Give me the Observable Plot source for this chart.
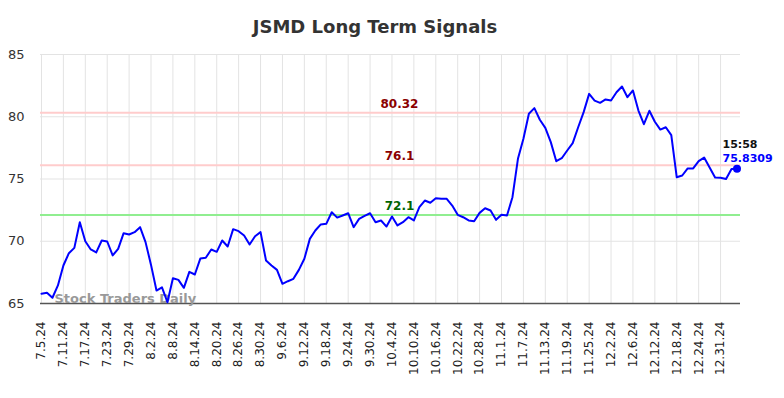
<!DOCTYPE html>
<html>
<head>
<meta charset="utf-8">
<script src="https://cdn.jsdelivr.net/npm/d3@7"></script>
<script src="https://cdn.jsdelivr.net/npm/@observablehq/plot@0.6"></script>
<style>
  html, body { margin: 0; padding: 0; background: #fff; }
  #title { width: 750px; height: 40px; text-align: center;
           font: bold 18px "DejaVu Sans", sans-serif; line-height: 54px; color: #333; overflow: visible; }
  #chart svg { display: block; }
</style>
</head>
<body>
<div id="title">JSMD Long Term Signals</div>
<div id="chart"></div>
<script>
const values = [
  65.78, 65.86, 65.46, 66.45, 68.05, 69.04, 69.47, 71.53, 70.00, 69.34,
  69.10, 70.06, 69.98, 68.86, 69.39, 70.65, 70.54, 70.73, 71.13, 69.93,
  68.10, 66.04, 66.30, 65.10, 67.03, 66.90, 66.26, 67.54, 67.33, 68.61,
  68.67, 69.34, 69.15, 70.06, 69.58, 70.97, 70.81, 70.46, 69.74, 70.40,
  70.73, 68.45, 68.05, 67.70, 66.58, 66.79, 66.98, 67.70, 68.59, 70.19,
  70.86, 71.35, 71.40, 72.33, 71.90, 72.07, 72.25, 71.13, 71.80, 72.04,
  72.25, 71.53, 71.67, 71.18, 71.99, 71.27, 71.53, 71.93, 71.67, 72.74,
  73.27, 73.09, 73.45, 73.41, 73.41, 72.87, 72.12, 71.93, 71.67, 71.61,
  72.28, 72.65, 72.47, 71.72, 72.12, 72.07, 73.54, 76.62, 78.23, 80.24,
  80.69, 79.76, 79.11, 77.96, 76.43, 76.67, 77.29, 77.88, 79.16, 80.37,
  81.84, 81.30, 81.12, 81.39, 81.30, 81.97, 82.43, 81.57, 82.11, 80.50,
  79.40, 80.48, 79.60, 78.97, 79.16, 78.52, 75.14, 75.28, 75.85, 75.85,
  76.43, 76.72, 75.92, 75.12, 75.10, 75.00, 75.80, 75.8309
];
const tickLabels = [
  "7.5.24", "7.11.24", "7.17.24", "7.23.24", "7.29.24", "8.2.24", "8.8.24", "8.14.24",
  "8.20.24", "8.26.24", "8.30.24", "9.6.24", "9.12.24", "9.18.24", "9.24.24", "9.30.24",
  "10.4.24", "10.10.24", "10.16.24", "10.22.24", "10.28.24", "11.1.24", "11.7.24", "11.13.24",
  "11.19.24", "11.25.24", "12.2.24", "12.6.24", "12.12.24", "12.18.24", "12.24.24", "12.31.24"
];
const tickStep = 4;
const resistanceLevels = [80.32, 76.1];
const supportLevels = [72.1];
const yTicks = [65, 70, 75, 80, 85];
const lastTime = "15:58";
const lastValue = 75.8309;

const data = values.map((v, i) => ({i, v}));
const tickIdx = tickLabels.map((_, k) => k * tickStep);
const labelOf = new Map(tickIdx.map((t, k) => [t, tickLabels[k]]));
const last = data[data.length - 1];

const chart = Plot.plot({
  width: 784,
  height: 358,
  marginTop: 14,
  marginBottom: 95,
  marginLeft: 40,
  marginRight: 44,
  style: {fontFamily: "DejaVu Sans, sans-serif", fontSize: "12px", color: "#333", background: "#fff"},
  x: {type: "linear", domain: [-0.18, values.length - 1 + 0.64]},
  y: {domain: [65, 85]},
  marks: [
    Plot.gridY(yTicks, {stroke: "#e3e3e3", strokeOpacity: 1, strokeWidth: 1}),
    Plot.gridX(tickIdx, {stroke: "#e3e3e3", strokeOpacity: 1, strokeWidth: 1}),
    Plot.axisY(yTicks, {tickSize: 0, tickPadding: 16, fontSize: 13, fill: "#333", label: null}),
    Plot.axisX(tickIdx, {tickSize: 0, tickPadding: 18, tickRotate: -90, fontSize: 12, fill: "#222",
      tickFormat: d => labelOf.get(d), label: null}),
    Plot.ruleY(resistanceLevels, {stroke: "#ffcccc", strokeWidth: 2}),
    Plot.ruleY(supportLevels, {stroke: "#90ee90", strokeWidth: 2}),
    Plot.ruleY([65], {stroke: "#555", strokeWidth: 1.3}),
    Plot.text(resistanceLevels, {y: d => d, text: d => String(d), frameAnchor: "middle", dx: 9, dy: -9,
      fill: "#8b0000", fontWeight: "bold", fontSize: 12}),
    Plot.text(supportLevels, {y: d => d, text: d => String(d), frameAnchor: "middle", dx: 9, dy: -9,
      fill: "#006400", fontWeight: "bold", fontSize: 12}),
    Plot.text(["Stock Traders Daily"], {frameAnchor: "bottom-left", textAnchor: "start", dx: 14, dy: -1,
      fill: "#999", fontWeight: "bold", fontSize: 13}),
    Plot.line(data, {x: "i", y: "v", stroke: "#0000ff", strokeWidth: 2}),
    Plot.dot([last], {x: "i", y: "v", r: 4, fill: "#0000ff"}),
    Plot.text([last], {x: "i", y: "v", text: () => lastTime, textAnchor: "start", dx: -14.5, dy: -24,
      fill: "#111", fontWeight: "bold", fontSize: 11}),
    Plot.text([last], {x: "i", y: "v", text: () => String(lastValue), textAnchor: "start", dx: -14.5, dy: -10,
      fill: "#0000ff", fontWeight: "bold", fontSize: 11})
  ]
});
document.getElementById("chart").appendChild(chart);
</script>
</body>
</html>
